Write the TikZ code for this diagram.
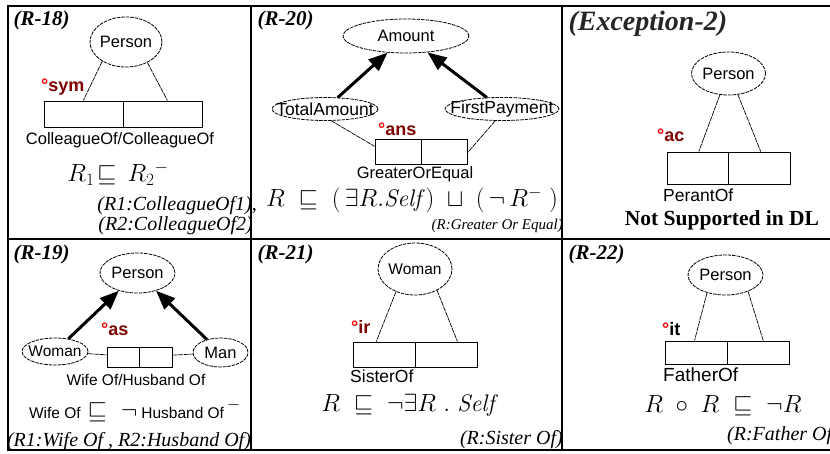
\documentclass[tikz,border=0pt]{standalone}
\usepackage{fontspec}
\setsansfont{Liberation Sans}
\newfontfamily\tnr{Liberation Serif}
\usetikzlibrary{arrows.meta,calc,shapes.geometric}
\definecolor{ink}{HTML}{000000}
\definecolor{ringred}{HTML}{FF0000}
\definecolor{tagred}{HTML}{7F0000}
\newcommand{\zw}[1]{\makebox[0pt]{#1}}
\newcommand{\ring}{\textcolor{ringred}{°}}
\newcommand{\fs}[1]{\fontsize{#1}{#1}\selectfont}

\begin{document}
\begin{tikzpicture}[
  x=1pt, y=-1pt,
  font=\sffamily,
  concept/.style={
    ellipse,
    draw=ink,
    dash pattern=on 3.5pt off 1pt,
    line width=0.8pt,
    inner sep=0pt,
    font=\sffamily\fs{16.5}
  },
  rolebox/.style={
    draw=ink,
    line width=0.9pt,
    inner sep=0pt,
    path picture={\draw[line width=0.9pt] (path picture bounding box.north) -- (path picture bounding box.south);}
  },
  leg/.style={draw=ink, line width=0.7pt, dash pattern=on 5pt off 0.8pt},
  isa/.style={-{Triangle[length=19pt,width=15pt]}, line width=3pt, draw=ink},
  ruleid/.style={font=\tnr\bfseries\itshape\fs{21}, anchor=base west},
  tag/.style={font=\sffamily\bfseries\fs{18}, text=tagred, anchor=base west, inner sep=0pt},
  rolename/.style={font=\sffamily\fs{16.5}, inner sep=0pt},
  axiom/.style={font=\fs{23}, inner sep=0pt},
  note/.style={font=\tnr\itshape\fs{20}, inner sep=0pt}
]

\useasboundingbox (0,0) rectangle (830,453);
\clip (0,0) rectangle (830,453);
\fill[white] (0,0) rectangle (830,453);

% frame
\draw[line width=1.4pt] (8,6) rectangle (845,450);
\draw[line width=1.4pt] (251,6) -- (251,450);
\draw[line width=1.4pt] (562,6) -- (562,450);
\draw[line width=1.4pt] (8,239) -- (845,239);

% (R-18)
\node[ruleid] (id18) at (10,25) {(R-18)};
\node[concept, minimum width=72pt, minimum height=50pt] (person18) at (126,42) {\zw{Person}};
\node[rolebox, minimum width=158pt, minimum height=26pt] (box18) at (123,114) {};
\draw[leg] (person18.219) -- ($(box18.north west)!.25!(box18.north east)$);
\draw[leg] (person18.316) -- ($(box18.north west)!.78!(box18.north east)$);
\node[tag] (tag18) at (41,91) {\ring sym};
\node[rolename] (role18) at (120,140) {ColleagueOf/ColleagueOf};
\node[axiom] (ax18) at (118,174) {$R_1\!\sqsubseteq\, R_2{}^-$};
\node[note, anchor=base east] (n18a) at (257,210) {(R1:ColleagueOf1),};
\node[note, anchor=base east] (n18b) at (253,230) {(R2:ColleagueOf2)};

% (R-20)
\node[ruleid] (id20) at (254,25) {(R-20)};
\node[concept, minimum width=126pt, minimum height=34pt] (amount) at (406,36) {\zw{Amount}};
\node[concept, minimum width=106pt, minimum height=23pt, font=\sffamily\fs{17.5}] (total) at (325,109) {\zw{TotalAmount}};
\node[concept, minimum width=114pt, minimum height=23pt, font=\sffamily\fs{17.5}] (first) at (502,109) {\zw{FirstPayment}};
\node[rolebox, minimum width=92pt, minimum height=25pt] (box20) at (421,151.5) {};
\draw[isa] (total) -- (amount);
\draw[isa] (first) -- (amount);
\draw[leg] (total.-62) -- ($(box20.north west)!.3!(box20.south west)$);
\draw[leg] (first.240) -- ($(box20.north east)!.55!(box20.south east)$);
\node[tag] (tag20) at (378,135) {\ring ans};
\node[rolename] (role20) at (415,174) {GreaterOrEqual};
\node[axiom, font=\fs{24}] (ax20) at (412,200) {$R \;\sqsubseteq\; (\,\exists R.\mathit{Self}\,)\;\sqcup\;(\,\neg\,R^{-}\;)$};
\node[note, anchor=base east, font=\tnr\itshape\fs{15}] (n20) at (563,229) {(R:Greater Or Equal)};

% (Exception-2)
\node[ruleid, font=\tnr\bfseries\itshape\fs{28}, text=black!85] (idex) at (565,30) {(Exception-2)};
\node[concept, minimum width=74pt, minimum height=43pt] (person2) at (728.5,73.5) {\zw{Person}};
\node[rolebox, minimum width=123pt, minimum height=32pt] (box2) at (728.5,168) {};
\draw[leg] (person2.248) -- ($(box2.north west)!.26!(box2.north east)$);
\draw[leg] (person2.294) -- ($(box2.north west)!.76!(box2.north east)$);
\node[tag] (tag2) at (657,141) {\ring ac};
\node[rolename, anchor=west, font=\sffamily\fs{17.5}] (role2) at (663,195.5) {PerantOf};
\node[font=\tnr\bfseries\fs{21.5}, inner sep=0pt] (nodl) at (722,220) {Not Supported in DL};

% (R-19)
\node[ruleid] (id19) at (10,259) {(R-19)};
\node[concept, minimum width=75pt, minimum height=40pt] (person19) at (137.5,273) {\zw{Person}};
\node[concept, minimum width=66pt, minimum height=27pt, font=\sffamily\fs{15.5}] (woman19) at (55,351.5) {\zw{Woman}};
\node[concept, minimum width=55pt, minimum height=29pt] (man19) at (220.5,352.5) {\zw{Man}};
\node[rolebox, minimum width=65pt, minimum height=20pt] (box19) at (139.5,357) {};
\draw[isa] (woman19) -- (person19);
\draw[isa] (man19) -- (person19);
\draw[leg] (woman19) -- (box19);
\draw[leg] (box19) -- (man19);
\node[tag] (tag19) at (101,335) {\ring as};
\node[rolename, font=\sffamily\fs{15.5}] (role19) at (136,380) {Wife Of/Husband Of};
\node[axiom] (ax19) at (135,411) {{\sffamily\fs{15.5}Wife Of} $\sqsubseteq\ \neg$\,{\sffamily\fs{15.5}Husband Of}$^{\,-}$};
\node[note] (n19) at (129,442) {(R1:Wife Of , R2:Husband Of)};

% (R-21)
\node[ruleid] (id21) at (254,259) {(R-21)};
\node[concept, minimum width=74pt, minimum height=52pt, font=\sffamily\fs{15.5}] (woman21) at (415,269) {\zw{Woman}};
\node[rolebox, minimum width=124pt, minimum height=25pt] (box21) at (415,354.5) {};
\draw[leg] (woman21.230) -- ($(box21.north west)!.19!(box21.north east)$);
\draw[leg] (woman21.316) -- ($(box21.north west)!.84!(box21.north east)$);
\node[tag] (tag21) at (351,333) {\ring ir};
\node[rolename, anchor=west, font=\sffamily\fs{17.5}] (role21) at (350,376.5) {SisterOf};
\node[axiom, font=\fs{24}] (ax21) at (408,405) {$R \;\sqsubseteq\; \neg\exists R\ .\ \mathit{Self}$};
\node[note, anchor=base east] (n21) at (563,444) {(R:Sister Of)};

% (R-22)
\node[ruleid] (id22) at (565,259) {(R-22)};
\node[concept, minimum width=75pt, minimum height=40pt] (person22) at (725.5,275) {\zw{Person}};
\node[rolebox, minimum width=124pt, minimum height=23pt] (box22) at (727,352.5) {};
\draw[leg] (person22.224) -- ($(box22.north west)!.24!(box22.north east)$);
\draw[leg] (person22.324) -- ($(box22.north west)!.79!(box22.north east)$);
\node[tag, text=ink] (tag22) at (662,335) {\ring it};
\node[rolename, anchor=west, font=\sffamily\fs{19}] (role22) at (663,374.5) {FatherOf};
\node[axiom, font=\fs{24}] (ax22) at (723,406) {$R \;\circ\; R \;\sqsubseteq\; \neg R$};
\node[note, anchor=base west] (n22) at (727,440) {(R:Father Of)};

\end{tikzpicture}
\end{document}
